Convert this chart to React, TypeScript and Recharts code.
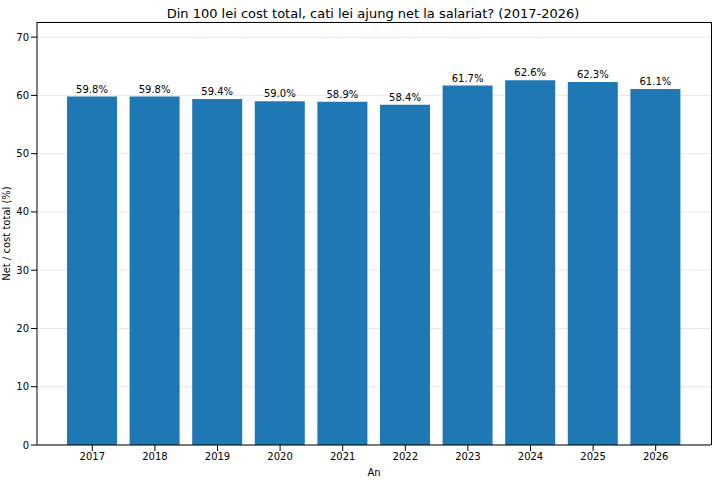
import React from "react";
import { BarChart, Bar, XAxis, YAxis, CartesianGrid, LabelList } from "recharts";

const years = ["2017","2018","2019","2020","2021","2022","2023","2024","2025","2026"];
const values = [59.8, 59.8, 59.4, 59.0, 58.9, 58.4, 61.7, 62.6, 62.3, 61.1];
const yTicks = [0, 10, 20, 30, 40, 50, 60, 70];

const data = years.map((y, i) => ({ year: y, value: values[i] }));
const font = "DejaVu Sans, sans-serif";

export default function App() {
  return (
    <div style={{ position: "absolute", left: 0, top: 0, width: 720, height: 480, background: "#fff", fontFamily: font }}>
      <div style={{ position: "absolute", top: 6, width: 746, textAlign: "center", fontSize: 13, color: "#000" }}>
        Din 100 lei cost total, cati lei ajung net la salariat? (2017-2026)
      </div>
      <BarChart width={720} height={480} data={data} margin={{ top: 22, right: 9, bottom: 0, left: 0 }} barSize={50}>
        <CartesianGrid vertical={false} stroke="#e8e8e8" />
        <XAxis dataKey="year" padding={{ left: 24, right: 24 }} height={35} tick={{ fontSize: 10, fill: "#000", fontFamily: font }}
          tickLine={{ stroke: "#000" }} axisLine={{ stroke: "#000" }}
          label={{ value: "An", position: "insideBottom", offset: 4, fontSize: 10, fill: "#000", fontFamily: font }} />
        <YAxis domain={[0, 72.6]} ticks={yTicks} width={37} tick={{ fontSize: 10, fill: "#000", fontFamily: font }}
          tickLine={{ stroke: "#000" }} axisLine={{ stroke: "#000" }}
          label={{ value: "Net / cost total (%)", angle: -90, position: "insideLeft", offset: 6, dy: 0, style: { textAnchor: "middle" }, fontSize: 10, fill: "#000", fontFamily: font }} />
        <Bar dataKey="value" fill="#1f77b4" isAnimationActive={false}>
          <LabelList dataKey="value" position="top" offset={4} formatter={(v: number) => v.toFixed(1) + "%"}
            style={{ fontSize: 10, fill: "#000", fontFamily: font }} />
        </Bar>
      </BarChart>
      <div style={{ position: "absolute", left: 711, top: 22, width: 0, height: 423, borderLeft: "1px solid #000" }} />
      <div style={{ position: "absolute", left: 37, top: 22, width: 674, height: 0, borderTop: "1px solid #000" }} />
    </div>
  );
}
